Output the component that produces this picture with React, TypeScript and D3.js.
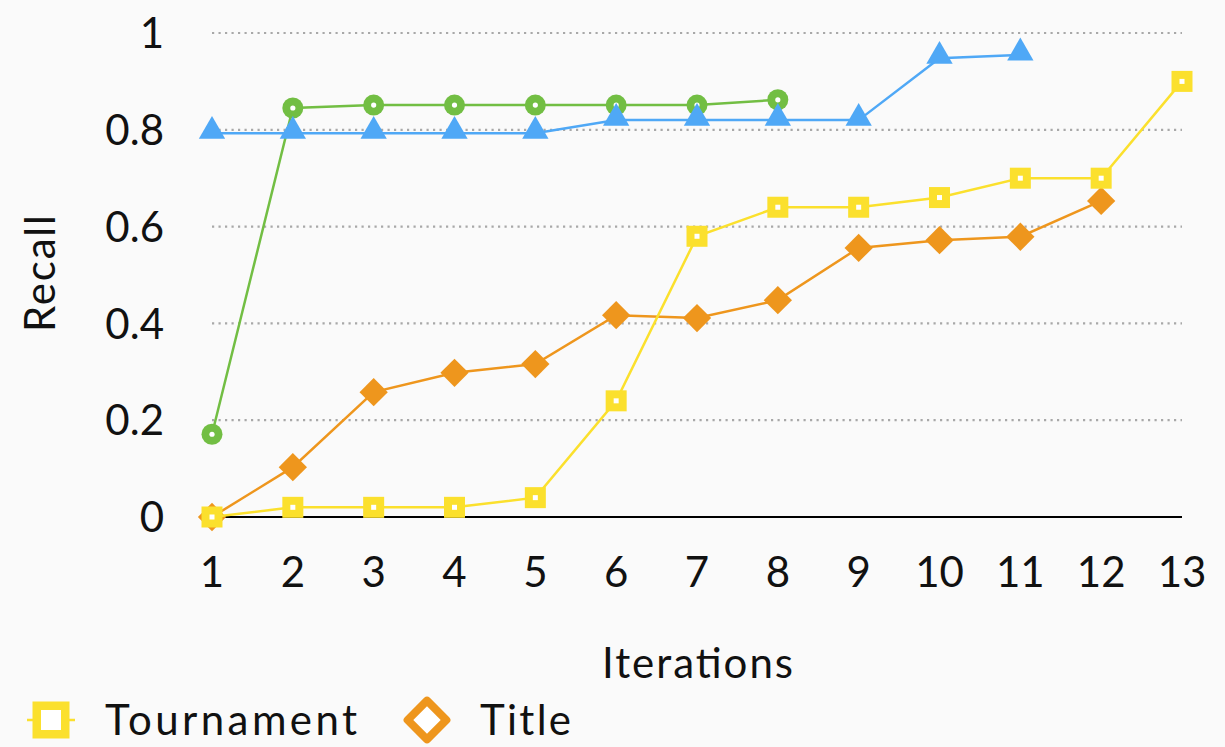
import React from "react";
import * as d3 from "d3";

const iterations = [1, 2, 3, 4, 5, 6, 7, 8, 9, 10, 11, 12, 13];
const tournament = [0, 0.02, 0.02, 0.02, 0.04, 0.24, 0.58, 0.64, 0.64, 0.66, 0.7, 0.7, 0.9];
const title = [0, 0.103, 0.258, 0.298, 0.316, 0.417, 0.411, 0.448, 0.556, 0.572, 0.579, 0.653];
const greenSeries = [0.171, 0.845, 0.851, 0.851, 0.851, 0.851, 0.851, 0.862];
const blueSeries = [0.793, 0.793, 0.793, 0.793, 0.793, 0.82, 0.82, 0.82, 0.82, 0.948, 0.955];
const yTicks = [0, 0.2, 0.4, 0.6, 0.8, 1];
const yTickLabels = ["0", "0.2", "0.4", "0.6", "0.8", "1"];

const YELLOW = "#FBE02D";
const ORANGE = "#EE961D";
const GREEN = "#72BE43";
const BLUE = "#4FA8F6";
const FONT = "Lato, 'Open Sans', sans-serif";

export default function App() {
  const W = 1225, H = 747;
  const x = d3.scaleLinear().domain([1, 13]).range([212, 1182]);
  const y = d3.scaleLinear().domain([0, 1]).range([517, 33]);
  const line = d3.line<number>().x((_, i) => x(iterations[i])).y((d) => y(d));

  const tri = d3.symbol().type(d3.symbolTriangle).size(300)();

  return (
    <svg width={W} height={H} style={{ position: "absolute", left: 0, top: 0, background: "#fafafa" }}>
      <rect width={W} height={H} fill="#fafafa" />
      {yTicks.slice(1).map((t) => (
        <line key={t} x1={x(1)} x2={x(13)} y1={y(t)} y2={y(t)} stroke="#a8a8a8" strokeWidth={2.2} strokeDasharray="2.2,4.3" />
      ))}
      <line x1={x(1)} x2={x(13)} y1={y(0)} y2={y(0)} stroke="#000" strokeWidth={2} />
      {yTicks.map((t, i) => (
        <text key={t} x={164} y={y(t)} dy="0.36em" textAnchor="end" fontFamily={FONT} fontSize={42} fill="#111">{yTickLabels[i]}</text>
      ))}
      {iterations.map((v) => (
        <text key={v} x={x(v)} y={587} textAnchor="middle" fontFamily={FONT} fontSize={42} fill="#111">{v}</text>
      ))}
      <text x={602} y={678} textLength={191} lengthAdjust="spacing" fontFamily={FONT} fontSize={42} fill="#111">Iterations</text>
      <text transform="translate(55,332) rotate(-90)" textLength={117} lengthAdjust="spacing" fontFamily={FONT} fontSize={42} fill="#111">Recall</text>

      {/* green */}
      <path d={line(greenSeries) || ""} fill="none" stroke={GREEN} strokeWidth={2.5} />
      {greenSeries.map((v, i) => (
        <g key={i} transform={`translate(${x(iterations[i])},${y(v)})`}>
          <circle r={10.5} fill={GREEN} />
          <circle r={2.6} fill="#fff" />
        </g>
      ))}
      {/* blue */}
      <path d={line(blueSeries) || ""} fill="none" stroke={BLUE} strokeWidth={2.5} />
      {blueSeries.map((v, i) => (
        <path key={i} d={tri || ""} transform={`translate(${x(iterations[i])},${y(v) - 2})`} fill={BLUE} />
      ))}
      {/* orange */}
      <path d={line(title) || ""} fill="none" stroke={ORANGE} strokeWidth={2.5} />
      {title.map((v, i) => (
        <rect key={i} x={-10} y={-10} width={20} height={20} fill={ORANGE} transform={`translate(${x(iterations[i])},${y(v)}) rotate(45)`} />
      ))}
      {/* yellow */}
      <path d={line(tournament) || ""} fill="none" stroke={YELLOW} strokeWidth={2.5} />
      {tournament.map((v, i) => (
        <g key={i} transform={`translate(${x(iterations[i])},${y(v)})`}>
          <rect x={-10.5} y={-10.5} width={21} height={21} fill={YELLOW} />
          <rect x={-2.5} y={-2.5} width={5} height={5} fill="#fff" />
        </g>
      ))}

      {/* legend */}
      <g transform="translate(51,720)">
        <line x1={-24} x2={24} y1={0} y2={0} stroke={YELLOW} strokeWidth={2.5} />
        <rect x={-14.25} y={-14.25} width={28.5} height={28.5} fill="#fff" stroke={YELLOW} strokeWidth={8.5} />
      </g>
      <text x={105} y={735} textLength={252} lengthAdjust="spacing" fontFamily={FONT} fontSize={42} fill="#111">Tournament</text>
      <g transform="translate(427,720)">
        <rect x={-13.7} y={-13.7} width={27.4} height={27.4} fill="#fff" stroke={ORANGE} strokeWidth={8} strokeLinejoin="round" transform="rotate(45)" />
      </g>
      <text x={480} y={735} textLength={91} lengthAdjust="spacing" fontFamily={FONT} fontSize={42} fill="#111">Title</text>
    </svg>
  );
}
